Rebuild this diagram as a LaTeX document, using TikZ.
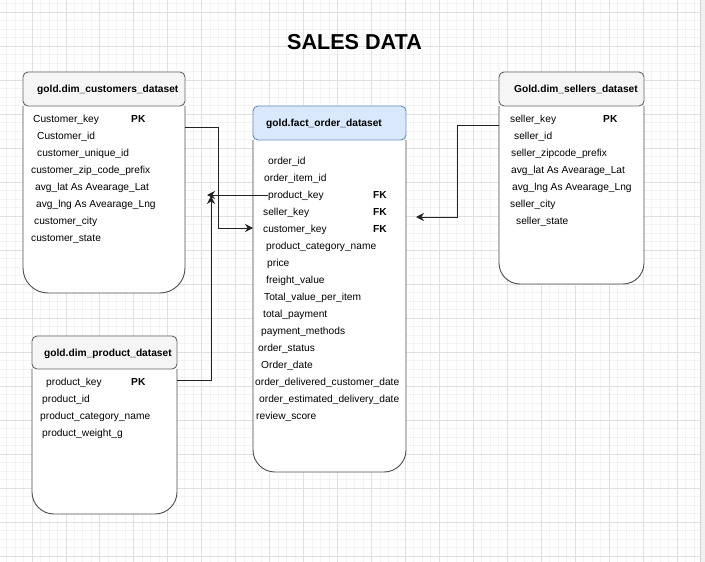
\documentclass[tikz,border=0pt]{standalone}
\usepackage{fontspec}
\setmainfont{Liberation Sans}
\usetikzlibrary{arrows.meta,calc}
\definecolor{gridminor}{HTML}{F3F3F3}
\definecolor{gridmajor}{HTML}{E0E0E0}
\definecolor{hdrfill}{HTML}{F5F5F5}
\definecolor{hdrline}{HTML}{666666}
\definecolor{bluefill}{HTML}{DAE8FC}
\definecolor{blueline}{HTML}{6C8EBF}
\definecolor{bodyline}{HTML}{4D4D4D}
\definecolor{connline}{HTML}{222222}
\tikzset{
 rowtext/.style={anchor=base west, inner sep=0pt, font=\fontsize{10.2}{12}\selectfont},
 keytext/.style={anchor=base west, inner sep=0pt, font=\bfseries\fontsize{10.2}{12}\selectfont},
 hdrtext/.style={anchor=base west, inner sep=0pt, font=\bfseries\fontsize{10.2}{12}\selectfont},
 greyhdr/.style={draw=hdrline, fill=hdrfill, rounded corners=5pt, line width=0.9pt},
 bluehdr/.style={draw=blueline, fill=bluefill, rounded corners=5pt, line width=0.9pt},
 bodyshape/.style={draw=bodyline, fill=white, line width=0.9pt},
 conn/.style={draw=connline, line width=0.9pt},
 tip/.style={-{Stealth[length=8pt,width=8pt]}},
}
% name L T R H B headerstyle radius
\newcommand\tablebox[8]{%
 \node[inner sep=0pt, outer sep=0pt, minimum width={(#4)-(#2)}, minimum height={(#6)-(#3)}, anchor=north west] (#1) at (#2,#3) {};
 \path[bodyshape, rounded corners=#8] (#2,#5) -- (#2,#6) -- (#4,#6) -- (#4,#5);
 \node[#7, inner sep=0pt, outer sep=0pt, minimum width={(#4)-(#2)}, minimum height={(#5)-(#3)}, anchor=north west] (#1-h) at (#2,#3) {};
}
\begin{document}
\begin{tikzpicture}[x=1pt,y=-1pt]
\useasboundingbox (0,0) rectangle (705,562);
\fill[white] (0,0) rectangle (705,562);
% grid
\begin{scope}
\clip (0,0) rectangle (700,562);
\foreach \i in {0,...,83} { \draw[gridminor, line width=0.8pt] ({-2+\i*8.4875},0) -- ({-2+\i*8.4875},562); }
\foreach \j in {0,...,69} { \draw[gridminor, line width=0.8pt] (0,{-22+\j*8.5}) -- (700,{-22+\j*8.5}); }
\foreach \i in {0,...,21} { \draw[gridmajor, line width=0.8pt] ({-2+\i*33.95},0) -- ({-2+\i*33.95},562); }
\foreach \j in {0,...,17} { \draw[gridmajor, line width=0.8pt] (0,{-22+\j*34}) -- (700,{-22+\j*34}); }
\end{scope}
\fill[gray!12] (700,0) rectangle (705,562);
\draw[gray!35, line width=0.8pt] (700,0) -- (700,562);

% title
\node[font=\bfseries\fontsize{21.6}{24}\selectfont, inner sep=0pt] (title) at (354.5,42) {SALES DATA};

% boxes
\tablebox{cust}{23}{72}{185}{106}{293}{greyhdr}{25pt}
\tablebox{fact}{253}{106}{406}{140}{472}{bluehdr}{22pt}
\tablebox{sell}{499}{72}{644}{106}{284}{greyhdr}{21pt}
\tablebox{prod}{32}{336}{177}{369}{514}{greyhdr}{22pt}

% headers
\node[hdrtext] (cust-t) at (37,92.6) {gold.dim\_customers\_dataset};
\node[hdrtext] (fact-t) at (266,126.6) {gold.fact\_order\_dataset};
\node[hdrtext] (sell-t) at (514,92.6) {Gold.dim\_sellers\_dataset};
\node[hdrtext] (prod-t) at (44,356.6) {gold.dim\_product\_dataset};

% customers rows
\node[rowtext] (c1) at (33,122.6) {Customer\_key};
\node[keytext] (c1k) at (131,122.6) {PK};
\node[rowtext] (c2) at (37,139.6) {Customer\_id};
\node[rowtext] (c3) at (37,156.6) {customer\_unique\_id};
\node[rowtext] (c4) at (31,173.6) {customer\_zip\_code\_prefix};
\node[rowtext] (c5) at (35,190.6) {avg\_lat As Avearage\_Lat};
\node[rowtext] (c6) at (36,207.6) {avg\_lng As Avearage\_Lng};
\node[rowtext] (c7) at (34,224.6) {customer\_city};
\node[rowtext] (c8) at (31,241.6) {customer\_state};

% fact rows
\node[rowtext] (f1) at (268,164.6) {order\_id};
\node[rowtext] (f2) at (264,181.6) {order\_item\_id};
\node[rowtext] (fpk) at (268,198.6) {product\_key};
\node[keytext] (fpkk) at (373,198.6) {FK};
\node[rowtext] (fsk) at (263,215.6) {seller\_key};
\node[keytext] (fskk) at (373,215.6) {FK};
\node[rowtext] (fck) at (263,232.6) {customer\_key};
\node[keytext] (fckk) at (373,232.6) {FK};
\node[rowtext] (f6) at (266,249.6) {product\_category\_name};
\node[rowtext] (f7) at (267,266.6) {price};
\node[rowtext] (f8) at (266,283.6) {freight\_value};
\node[rowtext] (f9) at (264,300.6) {Total\_value\_per\_item};
\node[rowtext] (f10) at (263,317.6) {total\_payment};
\node[rowtext] (f11) at (261,334.6) {payment\_methods};
\node[rowtext] (f12) at (258,351.6) {order\_status};
\node[rowtext] (f13) at (261,368.6) {Order\_date};
\node[rowtext] (f14) at (255,385.6) {order\_delivered\_customer\_date};
\node[rowtext] (f15) at (259,402.6) {order\_estimated\_delivery\_date};
\node[rowtext] (f16) at (256,419.6) {review\_score};

% sellers rows
\node[rowtext] (s1) at (510,122.6) {seller\_key};
\node[keytext] (s1k) at (603,122.6) {PK};
\node[rowtext] (s2) at (514,139.6) {seller\_id};
\node[rowtext] (s3) at (511,156.6) {seller\_zipcode\_prefix};
\node[rowtext] (s4) at (511,173.6) {avg\_lat As Avearage\_Lat};
\node[rowtext] (s5) at (512,190.6) {avg\_lng As Avearage\_Lng};
\node[rowtext] (s6) at (510,207.6) {seller\_city};
\node[rowtext] (s7) at (516,224.6) {seller\_state};

% product rows
\node[rowtext] (p1) at (46,385.6) {product\_key};
\node[keytext] (p1k) at (131,385.6) {PK};
\node[rowtext] (p2) at (42,402.6) {product\_id};
\node[rowtext] (p3) at (40,419.6) {product\_category\_name};
\node[rowtext] (p4) at (42,436.6) {product\_weight\_g};

% connector end points
\coordinate (pa) at (207,195);
\coordinate (pj) at (211,196);
\coordinate (sa) at (416,217);

% connectors
\draw[conn, tip] ([yshift=-55pt]cust.north east) -- ++(33,0) |- (fact.west |- 0,228);
\draw[conn, tip] ([yshift=-44pt]prod.north east) -- ++(34,0) -- (pj);
\draw[conn, tip] ([yshift=3.6pt]fpk.base west) -- (pa);
\draw[conn, tip] ([yshift=-53pt]sell.north west) -- ++(-42,0) |- (sa);
\end{tikzpicture}
\end{document}
